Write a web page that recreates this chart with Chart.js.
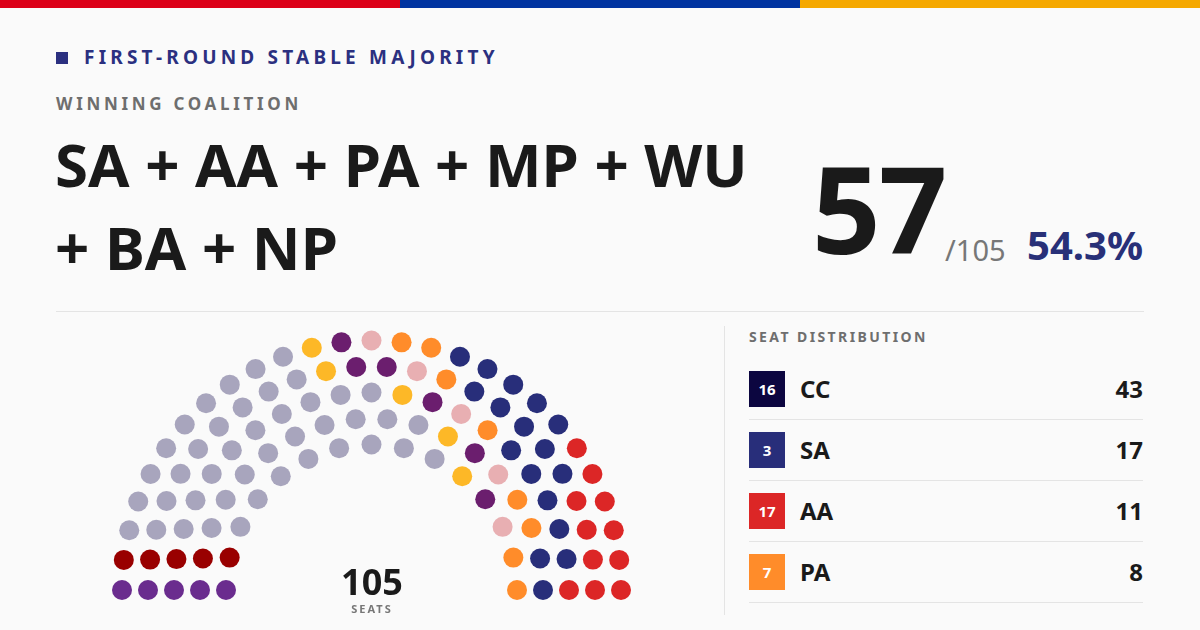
<!DOCTYPE html>
<html lang="en">
<head>
  <meta charset="UTF-8">
  <title>First-round stable majority</title>
  <script src="https://cdn.jsdelivr.net/npm/chart.js"></script>
  <style>
    body {
      margin: 0;
      width: 1200px;
      height: 630px;
      background: #fafafa;
      font-family: 'Noto Sans', 'Open Sans', sans-serif;
      position: relative;
      overflow: hidden;
      color: #1a1a1a;
    }
    .abs { position: absolute; line-height: 1; white-space: nowrap; }

    .topbar { position: absolute; top: 0; height: 8px; width: 400px; }

    .kicker {
      left: 84px; top: 48px;
      font-size: 19px; font-weight: 700;
      letter-spacing: 4.2px; color: #2b3080;
    }
    .kicker-box { position: absolute; left: 56px; top: 52px; width: 12px; height: 12px; background: #2b3080; }
    .sub {
      left: 56px; top: 95px;
      font-size: 17px; font-weight: 700;
      letter-spacing: 3.7px; color: #6e6e6e;
    }
    .coalition { left: 55px; font-size: 60px; font-weight: 700; }

    .big { left: 812px; top: 148px; font-size: 120px; font-weight: 700; letter-spacing: -2px; }
    .of { left: 945px; top: 235px; font-size: 29px; color: #777; }
    .pct { right: 57px; top: 225px; font-size: 40px; font-weight: 700; color: #283078; }

    .hr { position: absolute; left: 56px; top: 311px; width: 1088px; height: 1px; background: #e4e4e4; }
    .vr { position: absolute; left: 724px; top: 326px; width: 1px; height: 289px; background: #e4e4e4; }

    #seatChart { position: absolute; left: 96px; top: 320px; }

    .total { left: 272px; width: 200px; text-align: center; top: 564px; font-size: 36px; font-weight: 700; }
    .seats-lbl { left: 272px; width: 200px; text-align: center; top: 603px; font-size: 11px; font-weight: 700; letter-spacing: 2px; color: #777; }

    .dist-title {
      left: 749px; top: 330px;
      font-size: 14px; font-weight: 700;
      letter-spacing: 2.4px; color: #6e6e6e;
    }
    .row { position: absolute; left: 749px; width: 394px; height: 48px; border-bottom: 1px solid #e4e4e4; }
    .row .sq {
      position: absolute; left: 0; top: 0; width: 36px; height: 36px;
      color: #fff; font-size: 15px; font-weight: 700;
      display: flex; align-items: center; justify-content: center;
    }
    .row .name { position: absolute; left: 51px; top: -3px; font-size: 24px; font-weight: 700; line-height: 42px; }
    .row .val { position: absolute; right: 0; top: -3px; font-size: 24px; font-weight: 700; line-height: 42px; }
  </style>
</head>
<body>
  <div class="topbar" style="left:0;background:#dc0018"></div>
  <div class="topbar" style="left:400px;background:#0033a0"></div>
  <div class="topbar" style="left:800px;background:#f5a800"></div>

  <div class="kicker-box"></div>
  <div class="abs kicker">FIRST-ROUND STABLE MAJORITY</div>
  <div class="abs sub">WINNING COALITION</div>
  <div class="abs coalition" style="top:134px">SA + AA + PA + MP + WU</div>
  <div class="abs coalition" style="top:217px">+ BA + NP</div>

  <div class="abs big">57</div>
  <div class="abs of">/105</div>
  <div class="abs pct">54.3%</div>

  <div class="hr"></div>
  <div class="vr"></div>

  <canvas id="seatChart" width="552" height="290"></canvas>
  <div class="abs total">105</div>
  <div class="abs seats-lbl">SEATS</div>

  <div class="abs dist-title">SEAT DISTRIBUTION</div>
  <div id="legend"></div>

  <script>
    // seat groups, left to right around the hemicycle
    const seatParties = ['Purple', 'Dark red', 'CC', 'Yellow', 'Plum', 'Pink', 'PA', 'SA', 'AA'];
    const seatColors = ['#6a2c8e', '#990000', '#a8a5bd', '#fdb827', '#6b1e6e', '#e8afb2', '#ff8c2a', '#282e7a', '#dc2626'];

    // seats per group in each ring, inner ring first
    const ring1 = [1, 1, 8, 1, 1, 1, 2, 0, 0];
    const ring2 = [1, 1, 9, 1, 1, 1, 2, 2, 0];
    const ring3 = [1, 1, 9, 1, 1, 1, 1, 5, 1];
    const ring4 = [1, 1, 8, 1, 2, 1, 1, 5, 4];
    const ring5 = [1, 1, 9, 1, 1, 1, 2, 5, 6];
    const rings = [ring1, ring2, ring3, ring4, ring5];

    // seat distribution table
    const legendParties = ['CC', 'SA', 'AA', 'PA'];
    const legendIds = [16, 3, 17, 7];
    const legendSeats = [43, 17, 11, 8];
    const legendColors = ['#0c0640', '#282e7a', '#dc2626', '#ff8c2a'];

    const innerRadius = 145.5;
    const ringGap = 26;

    // build one dataset per party from the ring counts
    const datasets = seatParties.map((p, i) => ({
      label: p,
      data: [],
      backgroundColor: seatColors[i],
      borderWidth: 0,
      pointRadius: 10,
      pointHoverRadius: 10
    }));

    rings.forEach((counts, k) => {
      const n = counts.reduce((a, b) => a + b, 0);
      const r = innerRadius + ringGap * k;
      let seat = 0;
      counts.forEach((c, p) => {
        for (let j = 0; j < c; j++) {
          const t = Math.PI - seat * Math.PI / (n - 1);
          datasets[p].data.push({ x: r * Math.cos(t), y: r * Math.sin(t) });
          seat++;
        }
      });
    });

    new Chart(document.getElementById('seatChart').getContext('2d'), {
      type: 'scatter',
      data: { datasets },
      options: {
        responsive: false,
        animation: false,
        layout: { padding: 0, autoPadding: false },
        plugins: { legend: { display: false }, tooltip: { enabled: false } },
        scales: {
          x: { type: 'linear', min: -275.5, max: 276.5, display: false },
          y: { type: 'linear', min: -20, max: 270, display: false }
        }
      }
    });

    // table rows
    const legend = document.getElementById('legend');
    legendParties.forEach((name, i) => {
      const row = document.createElement('div');
      row.className = 'row';
      row.style.top = (371 + i * 61) + 'px';
      row.innerHTML =
        '<div class="sq" style="background:' + legendColors[i] + '">' + legendIds[i] + '</div>' +
        '<div class="name">' + name + '</div>' +
        '<div class="val">' + legendSeats[i] + '</div>';
      legend.appendChild(row);
    });
  </script>
</body>
</html>
